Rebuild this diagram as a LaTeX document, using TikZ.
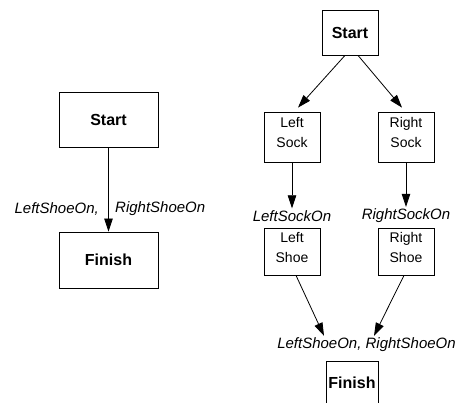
\documentclass[tikz,border=0pt]{standalone}
\usepackage{fontspec}
\setmainfont{Liberation Sans}
\usetikzlibrary{arrows.meta}

\begin{document}
\begin{tikzpicture}[x=1pt,y=-1pt,
  act/.style={draw,line width=0.8pt,align=center,font=\fontsize{14}{20}\selectfont},
  bigact/.style={act,font=\bfseries\fontsize{16}{19}\selectfont},
  twoline/.style={act,text depth=9pt},
  cond/.style={font=\itshape\fontsize{15}{18}\selectfont,inner sep=2pt},
  flow/.style={line width=0.8pt,-{Triangle[length=13pt,width=8.5pt]}}]
\tikzstyle{every node}+=[inner sep=0pt]
\useasboundingbox (0,0) rectangle (456,403);
% plan with one step
\node [bigact,minimum width=99pt,minimum height=55pt] (start1) at (108.5,119.5) {Start};
\node [bigact,minimum width=99pt,minimum height=56pt] (finish1) at (108.5,260) {Finish};
\draw [flow] (start1) -- (finish1);
\node [cond,anchor=east] (lshoeon1) at (101,209) {LeftShoeOn,};
\node [cond,anchor=west] (rshoeon1) at (113,209) {RightShoeOn};
% partial order plan
\node [bigact,minimum width=56pt,minimum height=45pt] (start2) at (350,32.5) {Start};
\node [twoline,minimum width=56pt,minimum height=50pt] (lsock) at (292,137) {Left\\Sock};
\node [twoline,minimum width=56pt,minimum height=50pt] (rsock) at (406,137) {Right\\Sock};
\node [cond] (lsockon) at (292,216) {LeftSockOn};
\node [cond] (rsockon) at (406,216) {RightSockOn};
\node [twoline,minimum width=56pt,minimum height=47pt] (lshoe) at (292,251.5) {Left\\Shoe};
\node [twoline,minimum width=56pt,minimum height=47pt] (rshoe) at (406,251.5) {Right\\Shoe};
\node [cond] (shoeson) at (366.5,345) {LeftShoeOn, RightShoeOn};
\node [bigact,minimum width=52pt,minimum height=44pt] (finish2) at (352,383) {Finish};
\draw [flow] ([xshift=-5pt]start2.south) -- ([xshift=6pt,yshift=4pt]lsock.north);
\draw [flow] ([xshift=8pt]start2.south) -- ([xshift=-4pt,yshift=4pt]rsock.north);
\draw [flow] (lsock) -- (lsockon);
\draw [flow] (rsock) -- (rsockon);
\draw [flow] ([xshift=4pt]lshoe.south) -- ([xshift=-42.5pt]shoeson.north);
\draw [flow] ([xshift=-2pt]rshoe.south) -- ([xshift=7.5pt]shoeson.north);
\end{tikzpicture}
\end{document}
